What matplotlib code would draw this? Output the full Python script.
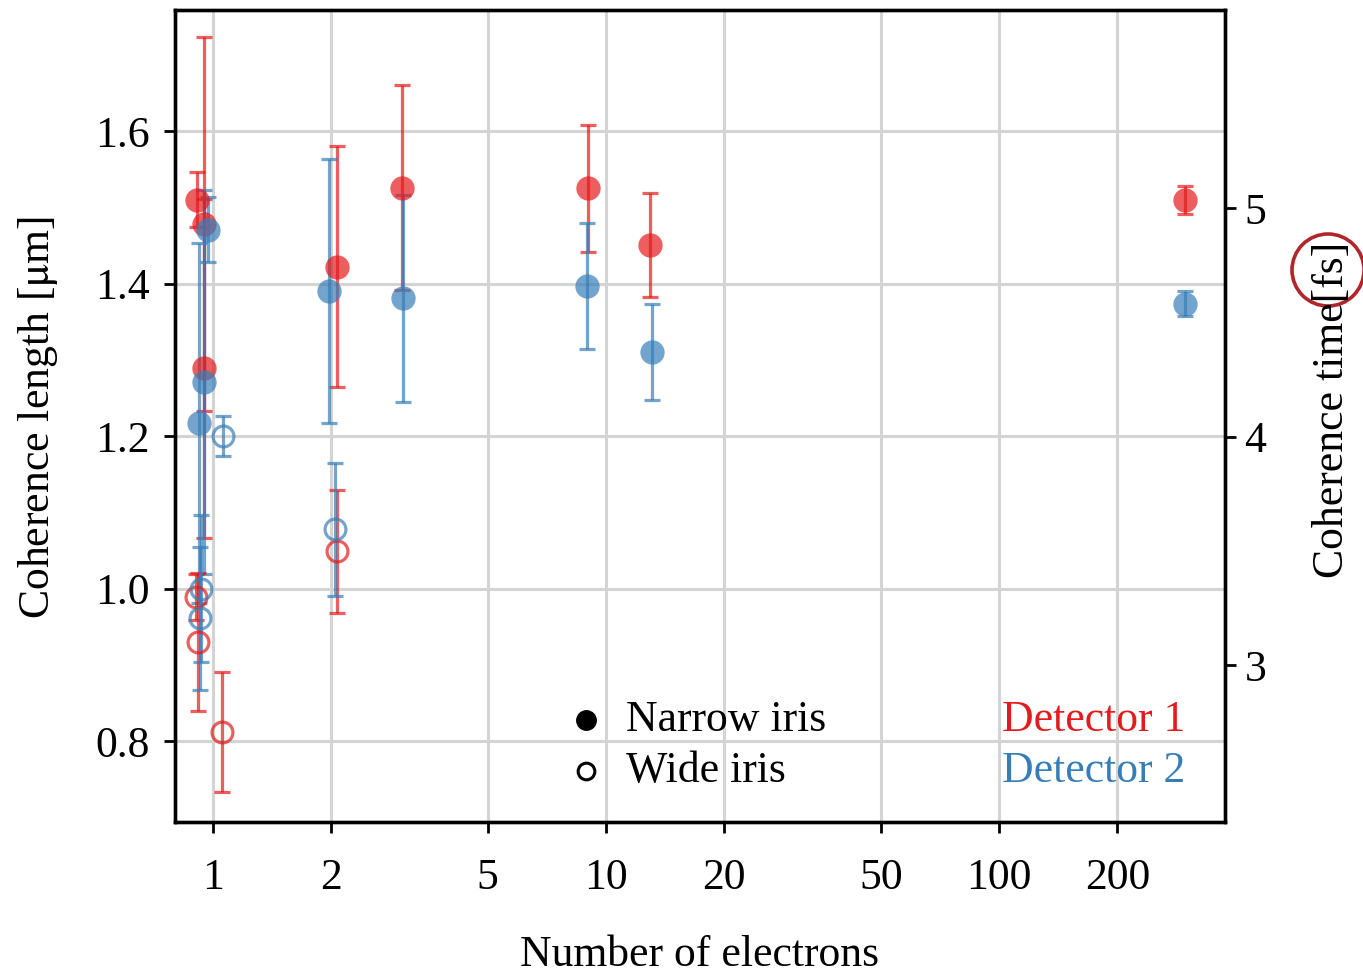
import matplotlib
matplotlib.use("Agg")
import matplotlib.pyplot as plt
from matplotlib.patches import Ellipse

plt.rcParams['font.family'] = ['Liberation Serif', 'DejaVu Serif']
plt.rcParams['mathtext.fontset'] = 'stix'

RED = '#e41a1c'
BLUE = '#377eb8'
C_LIGHT = 0.299792458  # um per fs
FS = 31.5

# narrow iris, detector 1
n1_x = [0.909, 0.950, 0.950, 2.064, 3.03, 9.02, 12.96, 297]
n1_y = [1.510, 1.478, 1.289, 1.422, 1.526, 1.525, 1.451, 1.510]
n1_e = [0.036, 0.245, 0.222, 0.158, 0.134, 0.083, 0.068, 0.018]
# narrow iris, detector 2
n2_x = [0.973, 0.950, 0.920, 1.977, 3.04, 8.97, 13.1, 297]
n2_y = [1.471, 1.271, 1.217, 1.390, 1.381, 1.397, 1.310, 1.374]
n2_e = [0.043, 0.252, 0.236, 0.173, 0.136, 0.082, 0.063, 0.016]
# wide iris, detector 1
w1_x = [0.905, 0.914, 1.052, 2.064]
w1_y = [0.989, 0.930, 0.812, 1.049]
w1_e = [0.030, 0.091, 0.079, 0.081]
# wide iris, detector 2
w2_x = [0.932, 0.927, 1.062, 2.044]
w2_y = [1.000, 0.961, 1.200, 1.078]
w2_e = [0.096, 0.094, 0.026, 0.087]

xticks = [1, 2, 5, 10, 20, 50, 100, 200]
yticks = [0.8, 1.0, 1.2, 1.4, 1.6]
yticks_right = [3, 4, 5]

fig = plt.figure(figsize=(13.63, 9.73), dpi=100)
ax = fig.add_axes([175/1363, 1-822/973, 1050/1363, 812/973])

eb = dict(linestyle='none', alpha=0.7, elinewidth=2.3, capsize=6, capthick=2.3)
for x, y, e, c in [(n1_x, n1_y, n1_e, RED), (n2_x, n2_y, n2_e, BLUE)]:
    res = ax.errorbar(x, y, yerr=e, fmt='o', color=c, ecolor=c, markersize=17.5,
                      zorder=3, **eb)
    res[0].set_markeredgewidth(0)
for x, y, e, c in [(w1_x, w1_y, w1_e, RED), (w2_x, w2_y, w2_e, BLUE)]:
    ax.errorbar(x, y, yerr=e, fmt='o', color=c, ecolor=c, markersize=15,
                markerfacecolor='none', markeredgewidth=2.3, zorder=3, **eb)

ax.set_xscale('log')
ax.set_xlim(0.80, 376)
ax.set_ylim(0.694, 1.759)
ax.set_xticks(xticks)
ax.set_xticklabels([str(t) for t in xticks])
ax.xaxis.set_minor_locator(matplotlib.ticker.NullLocator())
ax.set_yticks(yticks)
ax.set_yticklabels([f'{t:.1f}' for t in yticks])
ax.grid(True, color='#d4d4d4', linewidth=2.2, zorder=0)
ax.set_axisbelow(True)
ax.tick_params(axis='both', which='major', direction='out', length=8, width=2,
               labelsize=FS)
ax.tick_params(axis='x', pad=18)
ax.tick_params(axis='y', pad=10)
for s in ax.spines.values():
    s.set_linewidth(2.4)

ax2 = ax.twinx()
ax2.set_ylim(ax.get_ylim()[0] / C_LIGHT, ax.get_ylim()[1] / C_LIGHT)
ax2.set_yticks(yticks_right)
ax2.set_yticklabels([str(t) for t in yticks_right])
ax2.tick_params(axis='y', direction='out', length=8, width=2, labelsize=FS, pad=6)
for s in ax2.spines.values():
    s.set_linewidth(2.4)

# legend by hand
ax.plot([0.391], [0.126], 'o', color='black', markersize=14, transform=ax.transAxes, clip_on=False)
ax.plot([0.391], [0.063], 'o', color='black', markerfacecolor='none', markersize=12,
        markeredgewidth=2.2, transform=ax.transAxes, clip_on=False)
ax.text(0.43, 0.126, 'Narrow iris', fontsize=FS, va='center', ha='left', transform=ax.transAxes)
ax.text(0.43, 0.063, 'Wide iris', fontsize=FS, va='center', ha='left', transform=ax.transAxes)
ax.text(0.962, 0.126, 'Detector 1', fontsize=FS, va='center', ha='right', color=RED,
        transform=ax.transAxes)
ax.text(0.962, 0.063, 'Detector 2', fontsize=FS, va='center', ha='right', color=BLUE,
        transform=ax.transAxes)

fig.text(38/1363, 1-417/973, r'Coherence length [$\mathrm{\mu}$m]', fontsize=FS,
         rotation=90, ha='center', va='center')
fig.text(1332/1363, 1-410/973, 'Coherence time[fs]', fontsize=FS,
         rotation=90, ha='center', va='center')
fig.text(700/1363, 1-955/973, 'Number of electrons', fontsize=FS, ha='center', va='center')

fig.patches.append(Ellipse((1328/1363, 1-270/973), 72/1363, 72/973, transform=fig.transFigure,
                           fill=False, edgecolor='#b0262b', linewidth=2.6))

fig.savefig('out.png', dpi=100)
